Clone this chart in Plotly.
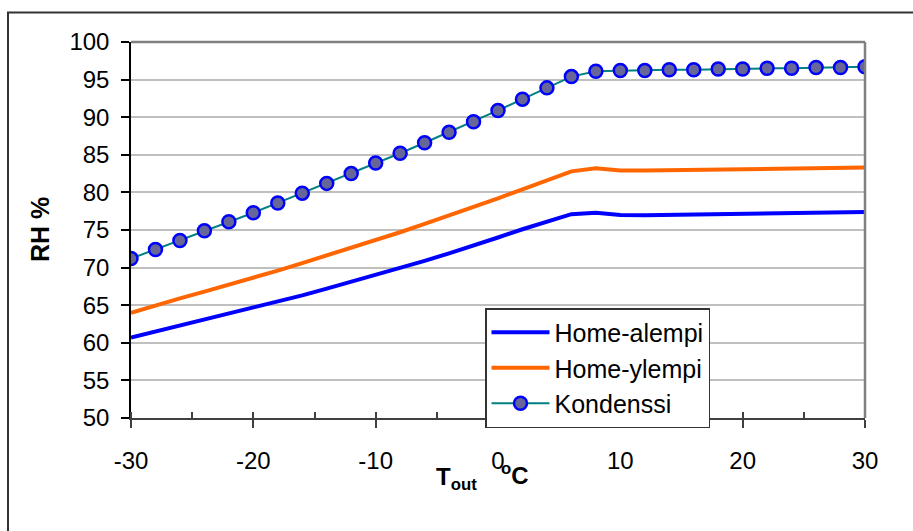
import plotly.graph_objects as go

temps = list(range(-30, 31, 2))
home_alempi = [60.7, 61.5, 62.3, 63.0, 63.8, 64.6, 65.5, 66.3, 67.2, 68.1, 69.0,
               70.0, 70.9, 71.9, 72.9, 74.0, 75.1, 76.1, 77.1, 77.3, 77.0, 76.95,
               77.0, 77.05, 77.1, 77.15, 77.2, 77.25, 77.3, 77.35, 77.4]
home_ylempi = [64.0, 65.0, 65.9, 66.8, 67.7, 68.6, 69.6, 70.6, 71.6, 72.7, 73.7,
               74.7, 75.8, 76.9, 78.0, 79.2, 80.4, 81.6, 82.8, 83.2, 82.9, 82.9,
               82.95, 83.0, 83.05, 83.1, 83.15, 83.2, 83.25, 83.3, 83.3]
kondenssi = [71.2, 72.4, 73.6, 74.9, 76.1, 77.3, 78.6, 79.9, 81.2, 82.5, 83.9,
             85.2, 86.6, 88.0, 89.4, 90.9, 92.4, 93.9, 95.4, 96.1, 96.2, 96.2,
             96.3, 96.3, 96.4, 96.4, 96.5, 96.5, 96.6, 96.6, 96.7]
series_names = ["Home-alempi", "Home-ylempi", "Kondenssi"]
x_ticks = [-30, -20, -10, 0, 10, 20, 30]
x_ticklabels = ["-30", "-20", "-10", "0", "10", "20", "30"]
y_ticks = list(range(50, 101, 5))

FONT = "Arial, Liberation Sans, sans-serif"
W, H = 913, 531
L, R, T, B = 131, 48, 42, 113
pw, ph = W - L - R, H - T - B

def px_x(p):
    return (p - L) / pw

def px_y(p):
    return (H - B - p) / ph

fig = go.Figure()
fig.add_trace(go.Scatter(x=temps, y=home_alempi, mode="lines", name=series_names[0],
                         line=dict(color="#0000FF", width=4)))
fig.add_trace(go.Scatter(x=temps, y=home_ylempi, mode="lines", name=series_names[1],
                         line=dict(color="#FF6600", width=4)))
fig.add_trace(go.Scatter(x=temps, y=kondenssi, mode="lines+markers", name=series_names[2],
                         line=dict(color="#008080", width=2),
                         marker=dict(size=13, color="#666699",
                                     line=dict(color="#0000FF", width=2.5))))

fig.update_layout(
    width=W, height=H,
    margin=dict(l=L, r=R, t=T, b=B),
    paper_bgcolor="white", plot_bgcolor="white",
    font=dict(family=FONT, size=23, color="black"),
    showlegend=True,
    legend=dict(x=px_x(485), y=px_y(308), xanchor="left", yanchor="top",
                bgcolor="white", bordercolor="#333333", borderwidth=1.5,
                font=dict(size=25), itemwidth=58, tracegroupgap=0),
)
fig.update_xaxes(range=[-30, 30], tickvals=x_ticks, ticktext=x_ticklabels,
                 ticks="outside", ticklen=8,
                 tickwidth=1.5, tickcolor="#404040", showgrid=False, zeroline=False,
                 showline=True, linecolor="#404040", linewidth=2,
                 ticklabelstandoff=12, tickfont=dict(size=24),
                 minor=dict(ticks="inside", dtick=5, tick0=-30, ticklen=6,
                            tickwidth=1.5, tickcolor="#404040", showgrid=False))
fig.update_yaxes(range=[50, 100], tickvals=y_ticks, ticks="outside", ticklen=8,
                 tickwidth=1.5, tickcolor="black", showgrid=True,
                 gridcolor="#C0C0C0", gridwidth=2, zeroline=False,
                 showline=True, linecolor="black", linewidth=1.5,
                 ticklabelstandoff=7, tickfont=dict(size=24))

# plot area top/right border
fig.add_shape(type="line", xref="paper", yref="paper", x0=0, x1=1, y0=1, y1=1,
              line=dict(color="#808080", width=2.5))
fig.add_shape(type="line", xref="paper", yref="paper", x0=1, x1=1, y0=0, y1=1,
              line=dict(color="#808080", width=2.5))
# outer chart frame
fig.add_shape(type="rect", xref="paper", yref="paper",
              x0=px_x(8), x1=px_x(925), y0=px_y(545), y1=px_y(12.5),
              line=dict(color="#333333", width=2), layer="below")

fig.add_annotation(text="<b>RH %</b>", xref="paper", yref="paper",
                   x=px_x(40), y=px_y(230), textangle=-90, showarrow=False,
                   font=dict(size=25), xanchor="center", yanchor="middle")
fig.add_annotation(text="<b>T<sub>out</sub></b>", xref="paper", yref="paper",
                   x=px_x(434), y=px_y(478), showarrow=False,
                   font=dict(size=24), xanchor="left", yanchor="middle")
fig.add_annotation(text="<b><sup>o</sup>C</b>", xref="paper", yref="paper",
                   x=px_x(499), y=px_y(474), showarrow=False,
                   font=dict(size=24), xanchor="left", yanchor="middle")

fig.write_html("out.html")
